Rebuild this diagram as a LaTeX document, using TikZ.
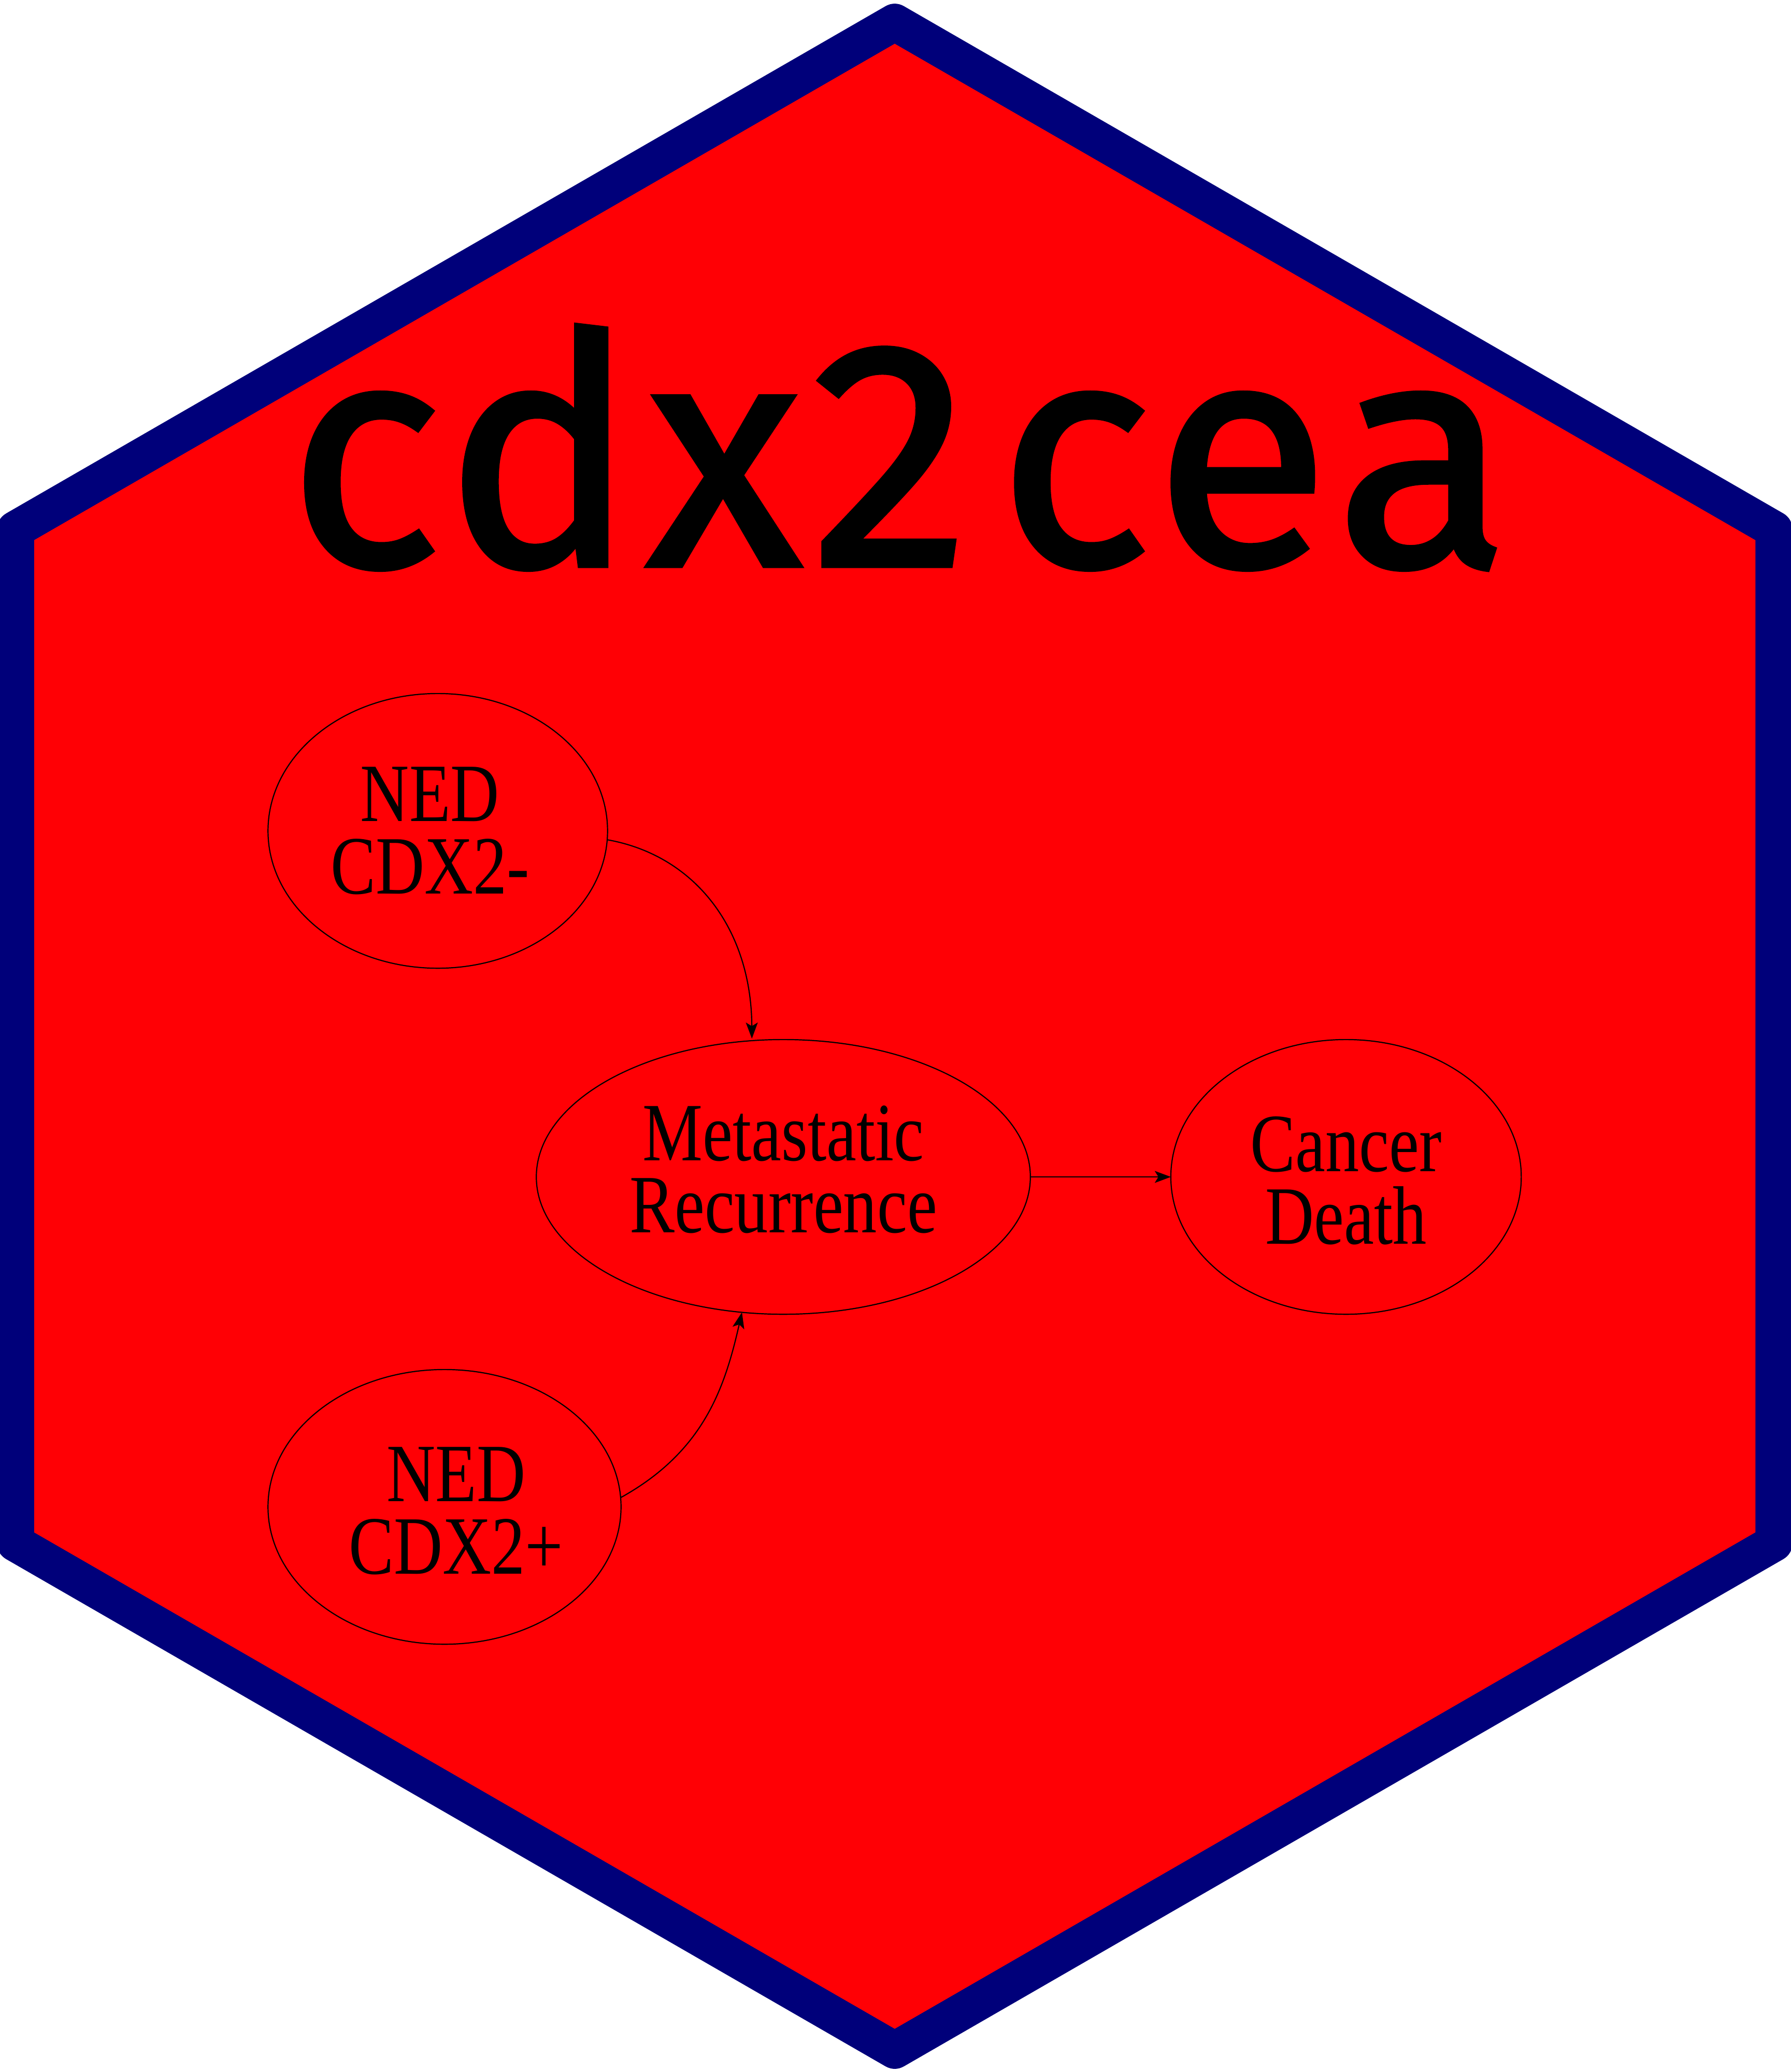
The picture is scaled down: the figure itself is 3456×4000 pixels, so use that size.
\documentclass[tikz,border=0pt]{standalone}
\usepackage{fontspec}
\setmainfont{Liberation Serif}
\newfontfamily\labelfont[FakeStretch=0.815]{Liberation Serif}
\newfontfamily\titlefont[FakeBold=1.5, LetterSpace=3]{Fira Sans}
\usetikzlibrary{arrows.meta, positioning, shapes.geometric}
\definecolor{hexred}{RGB}{255,0,5}
\definecolor{hexnavy}{RGB}{0,0,122}
\newcommand{\padbelow}[1]{\rule[-#1]{0pt}{#1}}
\tikzset{
    hexagon/.style={draw=hexnavy, fill=hexred, line width=0.715cm, line join=round},
    title/.style={font=\titlefont\fontsize{176}{176}\selectfont, anchor=base, inner sep=0pt},
    state/.style={ellipse, draw, line width=0.022cm, inner sep=0pt, outer sep=0pt, align=center,
                  minimum height=5.3cm, font=\labelfont\fontsize{45.5}{39.8}\selectfont},
    arrow/.style={-{Stealth[length=0.31cm, width=0.23cm, inset=0.07cm]}, line width=0.022cm},
}

\begin{document}
\begin{tikzpicture}[x=0.01cm, y=-0.01cm]
    \useasboundingbox (0,0) rectangle (3456,4000);

    % Sticker outline, clipped at the page edge on both sides
    \draw[hexagon] (1727,43) -- (3424,1022) -- (3424,2979) -- (1727,3958)
        -- (30,2979) -- (30,1022) -- cycle;

    \node[title] (name) at (1736,1092) {cdx2\kern0.55cm cea};

    \node[state, minimum width=9.53cm] (metastatic) at (1512,2272) {Metastatic\\Recurrence\padbelow{0.3cm}};
    \node[state, minimum width=6.76cm, right=2.71cm of metastatic] (death) {\rule{0pt}{1.2cm}Cancer\\Death};
    \node[state, minimum width=6.55cm] (nedNeg) at (845,1604) {NED\hspace*{0.3cm}\\CDX2-\hspace*{0.3cm}};
    \node[state, minimum width=6.81cm] (nedPos) at (858,2909) {\rule{0pt}{1.2cm}\hspace*{0.45cm}NED\\\hspace*{0.45cm}CDX2+};

    \draw[arrow, shorten >=0.04cm] (nedNeg.-3) .. controls +(170,30) and +(-1,-215) .. (metastatic.103);
    \draw[arrow] (nedPos.3) .. controls +(161,-89) and +(-33,145) .. (metastatic.-107);
    \draw[arrow] (metastatic) -- (death);
\end{tikzpicture}
\end{document}
